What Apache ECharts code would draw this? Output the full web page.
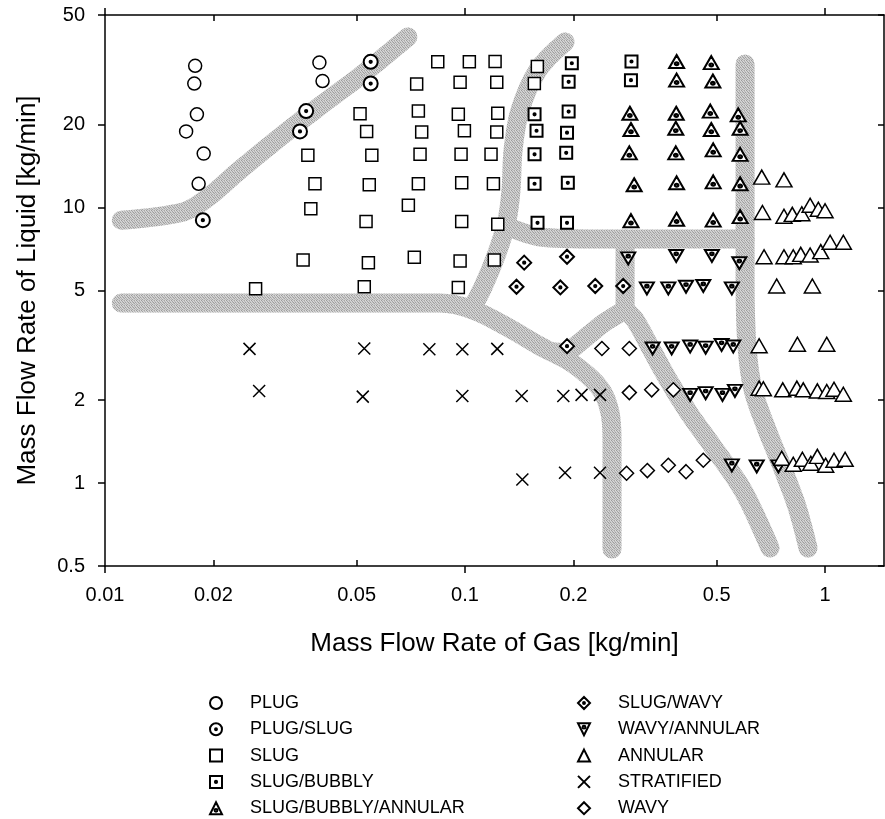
<!DOCTYPE html>
<html><head><meta charset="utf-8">
<script src="https://cdn.jsdelivr.net/npm/echarts@6/dist/echarts.min.js"></script>
<style>html,body{margin:0;padding:0;background:#fff}#c{width:885px;height:819px}</style>
</head><body><div id="c"></div>
<script>
// ---------- axis ticks ----------
const xTickValues = [0.01, 0.02, 0.05, 0.1, 0.2, 0.5, 1];
const xTickLabels = ['0.01', '0.02', '0.05', '0.1', '0.2', '0.5', '1'];
const xMajorTicks = [0.01, 0.1, 1];
const xMinorTicks = [0.02, 0.05, 0.2, 0.5];
const yTickValues = [0.5, 1, 2, 5, 10, 20, 50];
const yTickLabels = ['0.5', '1', '2', '5', '10', '20', '50'];

// ---------- flow regime observations [gas, liquid] ----------
const plug = [[0.0178,32.7],[0.0177,28.2],[0.0180,21.8],[0.0168,18.9],[0.0188,15.7],[0.0182,12.2],[0.0394,33.6],[0.0402,28.8]];
const plugSlug = [[0.0187,9.0],[0.0547,33.8],[0.0547,28.2],[0.0362,22.4],[0.0348,18.9]];
const slug = [[0.0840,33.8],[0.1028,33.8],[0.1212,33.9],[0.1588,32.5],
  [0.0734,28.1],[0.0969,28.5],[0.1225,28.5],[0.1558,28.2],
  [0.0511,21.9],[0.0742,22.4],[0.0958,21.8],[0.1233,22.0],
  [0.0533,18.9],[0.0758,18.8],[0.0996,19.0],[0.1225,18.8],
  [0.0366,15.5],[0.0551,15.5],[0.0750,15.6],[0.0975,15.6],[0.1181,15.6],
  [0.0383,12.2],[0.0542,12.1],[0.0742,12.2],[0.0979,12.3],[0.1199,12.2],
  [0.0373,9.9],[0.0696,10.2],
  [0.0531,8.9],[0.0979,8.9],[0.1233,8.7],
  [0.0355,6.45],[0.0539,6.3],[0.0723,6.6],[0.0969,6.4],[0.1206,6.45],
  [0.0262,5.07],[0.0525,5.16],[0.0958,5.13]];
const slugBubbly = [[0.198,33.4],[0.194,28.6],[0.156,21.8],[0.194,22.3],[0.158,19.0],[0.192,18.7],
  [0.156,15.6],[0.191,15.8],[0.156,12.2],[0.193,12.3],[0.159,8.8],[0.192,8.8],[0.290,33.9],[0.289,29.0]];
const slugBubblyAnnular = [[0.387,33.9],[0.483,33.6],
  [0.387,29.0],[0.488,28.8],
  [0.287,22.0],[0.386,22.0],[0.480,22.4],[0.574,21.7],
  [0.289,19.2],[0.385,19.4],[0.483,19.2],[0.581,19.4],
  [0.286,15.8],[0.385,15.8],[0.489,16.2],[0.581,15.6],
  [0.295,12.1],[0.387,12.3],[0.489,12.4],[0.581,12.2],
  [0.289,8.96],[0.387,9.07],[0.489,9.0],[0.581,9.27]];
const slugWavy = [[0.146,6.31],[0.192,6.63],[0.139,5.16],[0.184,5.13],[0.230,5.19],[0.275,5.19],[0.192,3.14]];
const wavyAnnular = [[0.284,6.54],[0.386,6.67],[0.485,6.67],[0.578,6.28],
  [0.320,5.09],[0.367,5.09],[0.411,5.16],[0.459,5.19],[0.551,5.09],
  [0.332,3.08],[0.375,3.08],[0.422,3.13],[0.466,3.10],[0.516,3.17],[0.556,3.13],
  [0.422,2.09],[0.466,2.12],[0.519,2.09],[0.562,2.16],
  [0.551,1.16],[0.646,1.15],[0.742,1.15]];
const annular = [[0.667,12.9],[0.769,12.6],
  [0.670,9.6],[0.769,9.3],[0.811,9.45],[0.862,9.5],[0.909,10.2],[0.958,9.86],[1.0,9.74],
  [0.677,6.63],[0.769,6.63],[0.816,6.63],[0.856,6.76],[0.909,6.73],[0.973,6.92],[1.033,7.48],[1.124,7.48],
  [0.734,5.19],[0.922,5.19],
  [0.656,3.15],[0.838,3.19],[1.011,3.19],
  [0.656,2.21],[0.674,2.20],[0.763,2.18],[0.835,2.21],[0.870,2.18],[0.952,2.16],[1.011,2.15],[1.059,2.19],[1.124,2.10],
  [0.758,1.23],[0.816,1.17],[0.865,1.22],[0.913,1.18],[0.952,1.25],[1.004,1.16],[1.059,1.21],[1.137,1.22]];
const stratified = [[0.0252,3.07],[0.0525,3.08],[0.0796,3.06],[0.0983,3.06],[0.1229,3.07],
  [0.0268,2.16],[0.0520,2.06],[0.0983,2.07],[0.1437,2.07],[0.1875,2.07],[0.2107,2.09],[0.2371,2.09],
  [0.1443,1.03],[0.1896,1.09],[0.2371,1.09]];
const wavy = [[0.240,3.08],[0.286,3.08],[0.286,2.13],[0.330,2.18],[0.379,2.18],
  [0.281,1.085],[0.321,1.11],[0.367,1.16],[0.411,1.10],[0.459,1.21]];

// ---------- regime transition boundaries (shaded bands) ----------
const boundaryA = [[0.0111,9.0],[0.0165,9.64],[0.0190,10.7],[0.0237,13.7],[0.0306,18.0],[0.0396,23.4],[0.0511,30.0],[0.0694,41.6]];
const boundaryB = [[0.0111,4.50],[0.0852,4.50],[0.1052,4.25],[0.1308,3.69],[0.1616,3.14],[0.1995,2.71],[0.2371,2.21],[0.2528,1.80],[0.2560,1.43],[0.2560,0.576]];
const boundaryC = [[0.1046,4.32],[0.1122,5.15],[0.1227,6.84],[0.1308,9.0],[0.1342,11.58],[0.1360,16.2],[0.1422,22.6],[0.1595,31.6],[0.1896,39.9]];
const boundaryD = [[0.1342,8.43],[0.1616,7.82],[0.2371,7.69],[0.5995,7.69]];
const boundaryE = [[0.5995,33.2],[0.5995,5.46],[0.6072,3.12],[0.631,2.18],[0.690,1.56],[0.7645,1.12],[0.8359,0.82],[0.8971,0.581]];
const boundaryF1 = [[0.2783,7.69],[0.2783,4.25]];
const boundaryF2 = [[0.2783,4.25],[0.2448,3.84],[0.2154,3.36],[0.1896,2.98],[0.1778,2.99]];
const boundaryF3 = [[0.2783,4.25],[0.2966,3.91],[0.3265,3.12],[0.3710,2.31],[0.4217,1.77],[0.4854,1.37],[0.5919,0.94],[0.7034,0.581]];

const legendCol1 = ['PLUG', 'PLUG/SLUG', 'SLUG', 'SLUG/BUBBLY', 'SLUG/BUBBLY/ANNULAR'];
const legendCol2 = ['SLUG/WAVY', 'WAVY/ANNULAR', 'ANNULAR', 'STRATIFIED', 'WAVY'];

// ---------- styling ----------
const FONT = 'Liberation Sans, Arial, Helvetica, sans-serif';
// stippled texture for the boundary bands (fixed 5x5 tile)
const stipple = (function () {
  const tile = ['dbdbdb','9a9a9a','d2d2d2','c4c4c4','a8a8a8',
                'c8c8c8','d6d6d6','a4a4a4','dadada','bcbcbc',
                'a0a0a0','cfcfcf','c6c6c6','9e9e9e','d4d4d4',
                'd8d8d8','b0b0b0','dcdcdc','c0c0c0','a6a6a6',
                'bababa','cacaca','a2a2a2','d0d0d0','cdcdcd'];
  const cv = document.createElement('canvas');
  cv.width = 5; cv.height = 5;
  const ctx = cv.getContext('2d');
  tile.forEach((c, i) => { ctx.fillStyle = '#' + c; ctx.fillRect(i % 5, Math.floor(i / 5), 1, 1); });
  return { image: cv, repeat: 'repeat' };
})();
const DOT = (cx, cy, r) => `M${cx-r} ${cy} A${r} ${r} 0 1 1 ${cx+r} ${cy} A${r} ${r} 0 1 1 ${cx-r} ${cy} Z `;
const SYM = {
  circleDot: 'path://M0 50 A50 50 0 1 1 100 50 A50 50 0 1 1 0 50 Z ' + DOT(50, 50, 8) + DOT(50, 50, 3),
  squareDot: 'path://M0 0 L100 0 L100 100 L0 100 Z ' + DOT(50, 50, 9) + DOT(50, 50, 3),
  diamondDot: 'path://M50 0 L100 50 L50 100 L0 50 Z ' + DOT(50, 50, 8) + DOT(50, 50, 3),
  triDot: 'path://M50 0 L100 100 L0 100 Z ' + DOT(50, 68, 12) + DOT(50, 68, 5),
  invTriDot: 'path://M0 0 L100 0 L50 100 Z ' + DOT(50, 32, 12) + DOT(50, 32, 5),
  cross: 'path://M0 0 L100 100 M100 0 L0 100'
};
function pts(name, data, symbol, size, bw) {
  return {
    type: 'scatter', name, data, symbol, symbolSize: size, z: 5,
    itemStyle: { color: '#fff', borderColor: '#000', borderWidth: bw, opacity: 1 },
    emphasis: { disabled: true }, silent: true
  };
}
function band(data, smooth) {
  return {
    type: 'line', data, symbol: 'none', smooth: smooth, silent: true, z: 1,
    lineStyle: { color: stipple, width: 19, cap: 'round', join: 'round' },
    emphasis: { disabled: true }
  };
}
function fmt(values, labels) {
  return v => {
    for (let i = 0; i < values.length; i++) {
      if (Math.abs(Math.log10(values[i]) - Math.log10(v)) < 1e-6) return labels[i];
    }
    return '';
  };
}
const axisLine = { show: true, lineStyle: { color: '#000', width: 1.5 } };
const xBase = { type: 'log', logBase: 10, min: 0.01, max: 1.458, splitLine: { show: false } };
const yBase = { type: 'log', logBase: 10, min: 0.5, max: 50, splitLine: { show: false } };
const legendBase = { orient: 'vertical', top: 689, height: 200, itemWidth: 12, itemHeight: 12, itemGap: 8.3,
  textStyle: { fontSize: 18, color: '#000', fontFamily: FONT, padding: [0, 0, 0, 23] }, selectedMode: false };

const chart = echarts.init(document.getElementById('c'), null, { renderer: 'canvas' });
chart.setOption({
  animation: false,
  backgroundColor: '#fff',
  grid: { left: 105, right: 1, top: 15, bottom: 253, containLabel: false, outerBoundsMode: 'none' },
  xAxis: [
    Object.assign({}, xBase, {
      position: 'bottom', axisLine,
      axisTick: { show: true, inside: false, length: 7, customValues: xMajorTicks, lineStyle: { color: '#000', width: 1.5 } },
      axisLabel: { customValues: xTickValues, formatter: fmt(xTickValues, xTickLabels), fontSize: 20, color: '#000', fontFamily: FONT, margin: 19 },
      name: 'Mass Flow Rate of Gas [kg/min]', nameLocation: 'middle', nameGap: 65, nameMoveOverlap: false,
      nameTextStyle: { fontSize: 26, color: '#000', fontFamily: FONT }
    }),
    Object.assign({}, xBase, {
      position: 'bottom', axisLine: { show: false },
      axisTick: { show: true, inside: true, length: 6, customValues: xMinorTicks, lineStyle: { color: '#000', width: 1.5 } },
      axisLabel: { show: false }
    }),
    Object.assign({}, xBase, {
      position: 'top', axisLine,
      axisTick: { show: true, inside: false, length: 7, customValues: xMajorTicks, lineStyle: { color: '#000', width: 1.5 } },
      axisLabel: { show: false }
    }),
    Object.assign({}, xBase, {
      position: 'top', axisLine: { show: false },
      axisTick: { show: true, inside: true, length: 6, customValues: xMinorTicks, lineStyle: { color: '#000', width: 1.5 } },
      axisLabel: { show: false }
    })
  ],
  yAxis: [
    Object.assign({}, yBase, {
      position: 'left', axisLine,
      axisTick: { show: true, inside: false, length: 7, customValues: yTickValues, lineStyle: { color: '#000', width: 1.5 } },
      axisLabel: { customValues: yTickValues, formatter: fmt(yTickValues, yTickLabels), fontSize: 20, color: '#000', fontFamily: FONT, margin: 20 },
      name: 'Mass Flow Rate of Liquid [kg/min]', nameLocation: 'middle', nameGap: 64, nameMoveOverlap: false,
      nameTextStyle: { fontSize: 26, color: '#000', fontFamily: FONT }
    }),
    Object.assign({}, yBase, {
      position: 'right', axisLine,
      axisTick: { show: true, inside: true, length: 6, customValues: yTickValues, lineStyle: { color: '#000', width: 1.5 } },
      axisLabel: { show: false }
    })
  ],
  legend: [
    Object.assign({}, legendBase, { data: legendCol1, left: 204 }),
    Object.assign({}, legendBase, { data: legendCol2, left: 572 })
  ],
  series: [
    band(boundaryA, 0.35), band(boundaryB, 0.35), band(boundaryC, 0.35), band(boundaryD, 0.3),
    band(boundaryE, 0.35), band(boundaryF1, 0), band(boundaryF2, 0.2), band(boundaryF3, 0.3),
    pts('PLUG', plug, 'circle', 13, 1.5),
    pts('PLUG/SLUG', plugSlug, SYM.circleDot, 14, 2),
    pts('SLUG', slug, 'rect', 12, 1.5),
    pts('SLUG/BUBBLY', slugBubbly, SYM.squareDot, 12, 2),
    pts('SLUG/BUBBLY/ANNULAR', slugBubblyAnnular, SYM.triDot, [15, 13], 2),
    pts('SLUG/WAVY', slugWavy, SYM.diamondDot, 14, 2),
    pts('WAVY/ANNULAR', wavyAnnular, SYM.invTriDot, [14, 12], 2),
    pts('ANNULAR', annular, 'triangle', [16, 14], 1.5),
    pts('STRATIFIED', stratified, SYM.cross, 12, 1.5),
    pts('WAVY', wavy, 'diamond', 14, 1.5)
  ]
});
</script>
</body></html>
